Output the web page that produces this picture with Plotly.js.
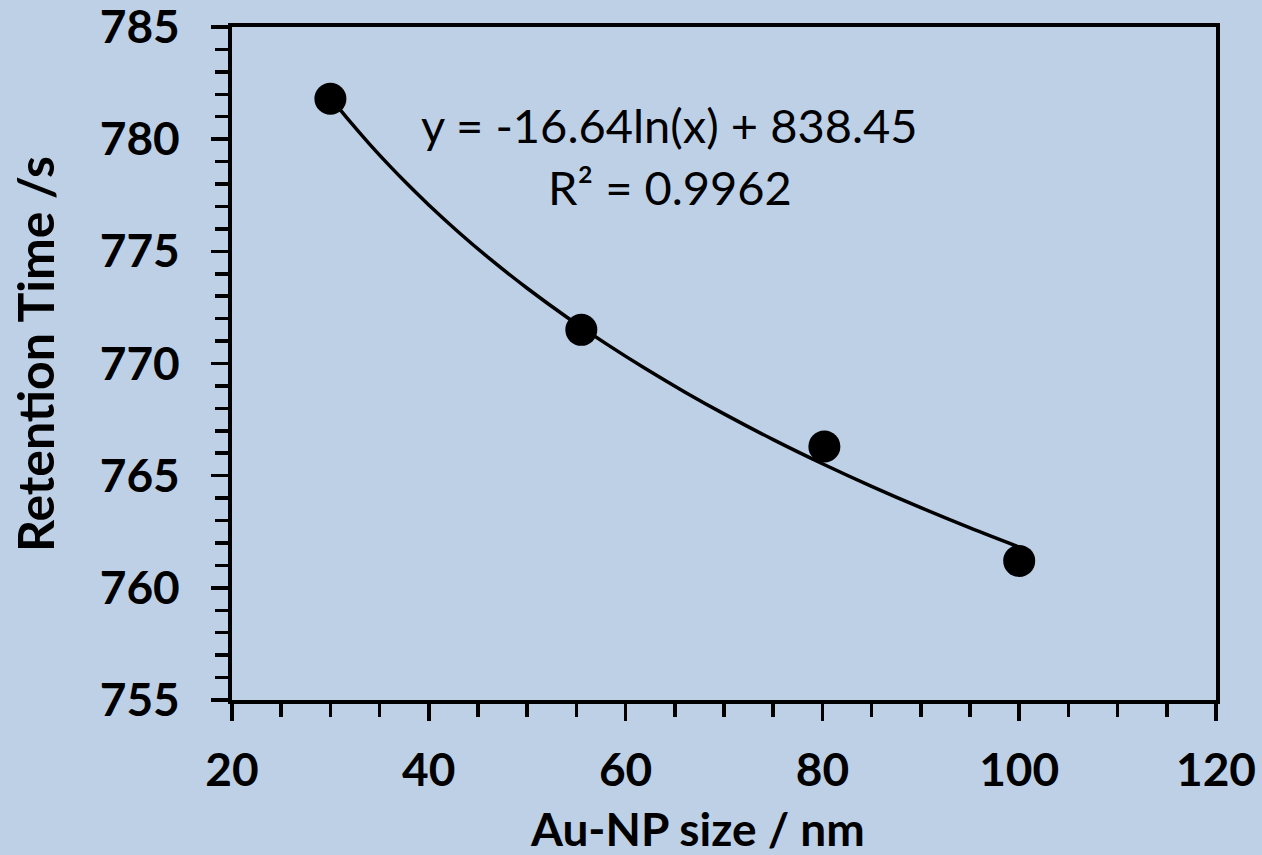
<!DOCTYPE html>
<html>
<head>
<meta charset="utf-8">
<script src="https://cdn.plot.ly/plotly-3.0.1.min.js"></script>
<style>
  html, body { margin: 0; padding: 0; background: #bdd0e6; }
  #chart { width: 1262px; height: 855px; }
</style>
</head>
<body>
<div id="chart"></div>
<script>
// Measured data
const sizeNm = [30, 55.5, 80.2, 100];
const retentionS = [781.8, 771.5, 766.3, 761.2];

// Logarithmic trendline as printed on the chart
const fitSlope = -16.64;
const fitIntercept = 838.45;
const fitR2 = 0.9962;
const fitX = [30, 32, 34, 36, 38, 40, 43, 46, 50, 54, 58, 62, 66, 70, 75, 80, 85, 90, 95, 100];
const fitY = fitX.map(v => fitSlope * Math.log(v) + fitIntercept);

const xTickVals = [20, 40, 60, 80, 100, 120];
const yTickVals = [755, 760, 765, 770, 775, 780, 785];

const xTitle = 'Au-NP size / nm';
const yTitle = 'Retention Time /s';

const bg = '#bdd0e6';
const fontFam = 'Lato, "Open Sans", sans-serif';

const traces = [
  {
    x: fitX, y: fitY, mode: 'lines', type: 'scatter',
    line: { color: 'black', width: 3.5, shape: 'spline' },
    hoverinfo: 'skip', showlegend: false
  },
  {
    x: sizeNm, y: retentionS, mode: 'markers', type: 'scatter',
    marker: { color: 'black', size: 32 },
    showlegend: false
  }
];

const layout = {
  width: 1262, height: 855,
  paper_bgcolor: bg, plot_bgcolor: bg,
  margin: { l: 232, r: 46, t: 27, b: 155 },
  font: { family: fontFam, color: 'black' },
  showlegend: false,
  xaxis: {
    range: [20, 120],
    tickvals: xTickVals,
    ticktext: xTickVals.map(String),
    ticks: 'outside', ticklen: 17, tickwidth: 3.5, tickcolor: 'black',
    minor: { dtick: 5, tick0: 20, ticks: 'outside', ticklen: 13, tickwidth: 3.5, tickcolor: 'black', showgrid: false },
    showline: true, linewidth: 4, linecolor: 'black', mirror: true,
    showgrid: false, zeroline: false,
    tickfont: { family: fontFam, size: 46, weight: 'bold' },
    ticklabelstandoff: 10,
    ticklabeloverflow: 'allow'
  },
  yaxis: {
    range: [755, 785],
    tickvals: yTickVals,
    ticktext: yTickVals.map(String),
    ticks: 'outside', ticklen: 17, tickwidth: 3.5, tickcolor: 'black',
    minor: { dtick: 1, tick0: 755, ticks: 'outside', ticklen: 13, tickwidth: 3.5, tickcolor: 'black', showgrid: false },
    showline: true, linewidth: 4, linecolor: 'black', mirror: true,
    showgrid: false, zeroline: false,
    tickfont: { family: fontFam, size: 46, weight: 'bold' },
    ticklabelstandoff: 22,
    ticklabeloverflow: 'allow'
  },
  annotations: [
    {
      xref: 'paper', yref: 'paper', x: 0.445, y: 0.854,
      text: 'y = ' + fitSlope.toFixed(2) + 'ln(x) + ' + fitIntercept.toFixed(2),
      showarrow: false, xanchor: 'center', yanchor: 'middle',
      font: { family: fontFam, size: 47, color: 'black' }
    },
    {
      xref: 'paper', yref: 'paper', x: 0.445, y: 0.763,
      text: 'R² = ' + fitR2.toFixed(4),
      showarrow: false, xanchor: 'center', yanchor: 'middle',
      font: { family: fontFam, size: 47, color: 'black' }
    },
    {
      xref: 'paper', yref: 'paper', x: 0.473, y: -0.191,
      text: xTitle, showarrow: false, xanchor: 'center', yanchor: 'middle',
      font: { family: fontFam, size: 46, weight: 'bold', color: 'black' }
    },
    {
      xref: 'paper', yref: 'paper', x: -0.2002, y: 0.514, textangle: -90,
      text: yTitle, showarrow: false, xanchor: 'center', yanchor: 'middle',
      font: { family: fontFam, size: 50, weight: 'bold', color: 'black' }
    }
  ]
};

Plotly.newPlot('chart', traces, layout, { displayModeBar: false, staticPlot: true });
</script>
</body>
</html>
